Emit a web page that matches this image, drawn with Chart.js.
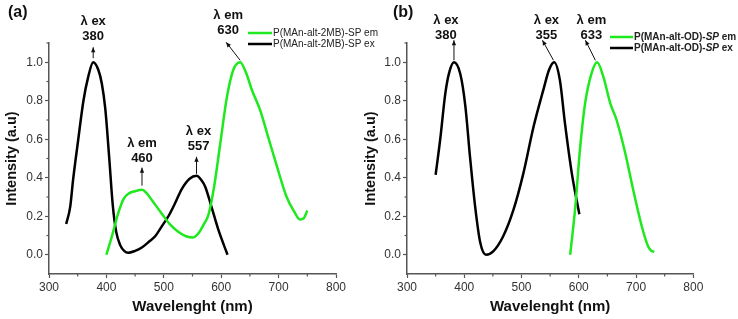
<!DOCTYPE html>
<html><head><meta charset="utf-8">
<script src="https://cdn.jsdelivr.net/npm/chart.js@4/dist/chart.umd.min.js"></script>
<style>
html,body{margin:0;padding:0;background:#fff;width:738px;height:319px;overflow:hidden;}
.wrap{position:absolute;top:0;height:319px;}
#wa{left:0;width:385px;}
#wb{left:355px;width:383px;}
canvas{display:block;}
</style></head><body>
<div class="wrap" id="wa"><canvas id="ca" width="385" height="319"></canvas></div>
<div class="wrap" id="wb"><canvas id="cb" width="383" height="319"></canvas></div>
<script>
// ---- data (a) ----
const aEmX = [400,410,420,430,440,450,462,470,480,495,510,525,540,551,560,570,578,588,598,610,621,633,644,653,668,682,697,714,728,737,744,750];
const aEmY = [0.00,0.10,0.21,0.29,0.32,0.33,0.338,0.32,0.28,0.22,0.16,0.12,0.095,0.09,0.11,0.16,0.21,0.36,0.57,0.82,0.96,1.0,0.94,0.86,0.75,0.61,0.46,0.30,0.22,0.183,0.19,0.23];
const aExX = [330,337,342,351,360,368,377,386,392,398,405,411,417,424,431,438,450,461,475,485,497,508,520,531,545,557,565,572,583,595,611];
const aExY = [0.16,0.25,0.39,0.60,0.80,0.92,1.0,0.96,0.89,0.76,0.50,0.26,0.12,0.05,0.02,0.01,0.02,0.036,0.07,0.096,0.15,0.20,0.27,0.34,0.395,0.41,0.39,0.355,0.25,0.13,0.0];
// ---- data (b) ----
const bEmX = [585,594,602,611,622,632,643,655,666,681,695,710,721,727,732];
const bEmY = [0.0,0.25,0.545,0.786,0.94,1.0,0.924,0.786,0.70,0.53,0.338,0.148,0.044,0.02,0.016];
const bExX = [350,358,367,374,382,393,402,410,419,428,438,451,468,486,503,521,538,548,557,567,576,588,601];
const bExY = [0.415,0.60,0.84,0.95,1.0,0.94,0.77,0.51,0.25,0.062,0.0,0.019,0.096,0.234,0.42,0.665,0.855,0.96,1.0,0.907,0.68,0.42,0.21];
// tick labels
const xTicks = [300,400,500,600,700,800];
const yTicks = [0.0,0.2,0.4,0.6,0.8,1.0];
const xMinor = [350,450,550,650,750];
const yMinor = [0.1,0.3,0.5,0.7,0.9,1.1];
// series names
const aNames = ['P(MAn-alt-2MB)-SP em','P(MAn-alt-2MB)-SP ex'];
// peak annotations: [label, value, nm, intensity]
const aPeaks = [['λ ex','380',377,1.0],['λ em','630',633,1.0],['λ ex','557',557,0.41],['λ em','460',462,0.338]];
const bPeaks = [['λ ex','380',382,1.0],['λ ex','355',557.5,1.0],['λ em','633',632.5,1.0]];

const GREEN = '#1ee81e';
const AXC = '#555';
const pts = (xs,ys)=>xs.map((x,i)=>({x:x,y:ys[i]}));

function makeOpts(cfg){
  return {
    responsive:false, animation:false,
    layout:{padding:{left:0,right:cfg.padR,top:43,bottom:0}},
    plugins:{legend:{display:false},tooltip:{enabled:false}},
    elements:{point:{radius:0},line:{borderWidth:2.5,cubicInterpolationMode:'monotone'}},
    scales:{
      x:{type:'linear',min:300,max:800,
        afterBuildTicks:s=>{s.ticks=xTicks.map(v=>({value:v}));},
        afterFit:s=>{s.height=45;},
        grid:{drawOnChartArea:false,drawTicks:true,tickLength:4,color:AXC,tickColor:AXC,tickWidth:1.2},
        border:{display:true,color:AXC,width:1.5},
        ticks:{color:'#333',font:{family:'Liberation Sans, Arial',size:12},padding:2,maxRotation:0,callback:v=>String(v)},
        title:{display:true,text:'Wavelenght (nm)',color:'#111',font:{family:'Liberation Sans, Arial',size:15,weight:'bold'},padding:{top:0,bottom:3}}
      },
      y:{type:'linear',min:-0.1,max:1.1,
        afterBuildTicks:s=>{s.ticks=yTicks.map(v=>({value:v}));},
        afterFit:s=>{s.width=cfg.yW;},
        grid:{drawOnChartArea:false,drawTicks:true,tickLength:4,color:AXC,tickColor:AXC,tickWidth:1.2},
        border:{display:true,color:AXC,width:1.5},
        ticks:{color:'#333',font:{family:'Liberation Sans, Arial',size:12},padding:2,callback:v=>Number(v).toFixed(1)},
        title:{display:true,text:'Intensity (a.u)',color:'#111',font:{family:'Liberation Sans, Arial',size:14.5,weight:'bold'},padding:{top:cfg.yTitlePad,bottom:0}}
      }
    }
  };
}

function overlay(cfg){
  return {id:'ov',afterDraw(chart){
    const c=chart.ctx, xs=chart.scales.x, ys=chart.scales.y;
    c.save();
    // minor ticks
    c.strokeStyle=AXC; c.lineWidth=1.2;
    xMinor.forEach(v=>{const p=xs.getPixelForValue(v); c.beginPath(); c.moveTo(p,ys.bottom); c.lineTo(p,ys.bottom+2.5); c.stroke();});
    yMinor.forEach(v=>{const p=ys.getPixelForValue(v); c.beginPath(); c.moveTo(xs.left,p); c.lineTo(xs.left-2.5,p); c.stroke();});
    // panel label
    c.fillStyle='#111'; c.font='bold 16px "Liberation Sans", Arial'; c.textBaseline='middle'; c.textAlign='left';
    c.fillText(cfg.panel,cfg.panelX,13);
    // peak annotations
    c.textAlign='center';
    cfg.peaks.forEach((p,i)=>{
      const o=cfg.off[i];
      const px=xs.getPixelForValue(p[2]), py=ys.getPixelForValue(p[3]);
      const x0=px+o.a[0], y0=py+o.a[1], x1=px+o.a[2], y1=py+o.a[3];
      c.strokeStyle='#111'; c.fillStyle='#111'; c.lineWidth=1;
      c.beginPath(); c.moveTo(x0,y0); c.lineTo(x1,y1); c.stroke();
      const ang=Math.atan2(y1-y0,x1-x0), L=5, W=2.2;
      c.beginPath(); c.moveTo(x1,y1);
      c.lineTo(x1-L*Math.cos(ang)+W*Math.sin(ang), y1-L*Math.sin(ang)-W*Math.cos(ang));
      c.lineTo(x1-L*Math.cos(ang)-W*Math.sin(ang), y1-L*Math.sin(ang)+W*Math.cos(ang));
      c.closePath(); c.fill();
      c.font='bold 13px "Liberation Sans", Arial';
      c.fillText(p[0],px+o.t[0],py+o.t[1]-15);
      c.fillText(p[1],px+o.t[0],py+o.t[1]);
    });
    // legend
    const L=cfg.leg;
    L.rows.forEach((r,i)=>{
      const y=L.y[i];
      c.strokeStyle=r.color; c.lineWidth=2.5;
      c.beginPath(); c.moveTo(L.x0,y); c.lineTo(L.x1,y); c.stroke();
      c.fillStyle='#222'; c.textAlign='left'; c.textBaseline='middle';
      let x=L.x1+1;
      r.parts.forEach(pt=>{c.font=pt[1]+' '+L.size+'px "Liberation Sans", Arial'; c.fillText(pt[0],x,y); x+=c.measureText(pt[0]).width;});
    });
    c.restore();
  }};
}

new Chart(document.getElementById('ca'),{
  type:'line',
  data:{datasets:[
    {label:aNames[0],data:pts(aEmX,aEmY),borderColor:GREEN,showLine:true},
    {label:aNames[1],data:pts(aExX,aExY),borderColor:'#000',showLine:true}
  ]},
  options:makeOpts({padR:49,yW:49,yTitlePad:3.3}),
  plugins:[overlay({panel:'(a)',panelX:8,peaks:aPeaks,
    off:[{a:[0,-4,0,-15],t:[0,-26]},{a:[0,-2,-14,-20],t:[-12,-32]},{a:[0,-2,0,-19],t:[2,-29]},{a:[0,-4,0,-22],t:[0,-31]}],
    leg:{x0:248,x1:272,y:[33,44],size:10,rows:[
      {color:GREEN,parts:[[aNames[0],'normal']]},
      {color:'#000',parts:[[aNames[1],'normal']]}]}})]
});

new Chart(document.getElementById('cb'),{
  type:'line',
  data:{datasets:[
    {label:'P(MAn-alt-OD)-SP em',data:pts(bEmX,bEmY),borderColor:GREEN,showLine:true},
    {label:'P(MAn-alt-OD)-SP ex',data:pts(bExX,bExY),borderColor:'#000',showLine:true}
  ]},
  options:makeOpts({padR:44.7,yW:52,yTitlePad:7.3}),
  plugins:[overlay({panel:'(b)',panelX:38,peaks:bPeaks,
    off:[{a:[0,-2,0,-22],t:[-8,-27]},{a:[-1,-2,-12,-22],t:[-8,-27]},{a:[-2,-2,-12,-22],t:[-6,-27]}],
    leg:{x0:255,x1:278,y:[37,48],size:10,rows:[
      {color:GREEN,parts:[['P(MAn-alt-OD)-','bold'],['SP','italic bold'],[' em','bold']]},
      {color:'#000',parts:[['P(MAn-alt-OD)-','bold'],['SP','italic bold'],[' ex','bold']]}]}})]
});
</script>
</body></html>
